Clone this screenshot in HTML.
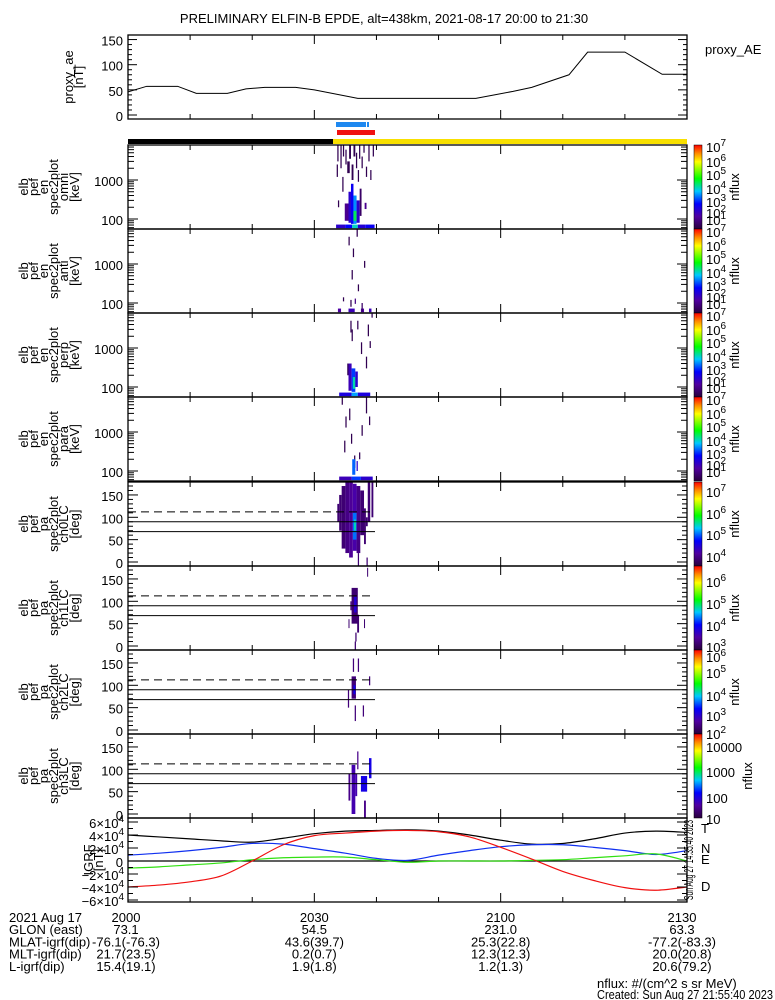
<!DOCTYPE html>
<html><head><meta charset="utf-8"><style>
html,body{margin:0;padding:0;background:#fff;}
svg{display:block;font-family:"Liberation Sans",sans-serif;}
text{fill:#000;font-size:13px;}
</style></head><body>
<svg id="chart" width="775" height="1000" viewBox="0 0 775 1000" xmlns="http://www.w3.org/2000/svg">
<text x="384" y="23" text-anchor="middle" font-size="14">PRELIMINARY ELFIN-B EPDE, alt=438km, 2021-08-17 20:00 to 21:30</text>
</svg>
<script>
// ---- data ----
const aeTimes = [0,3,8,11,16,19,22,27,30,37,56,59,62,65,71,74,80,86,90];
const aeValues = [46,57,57,43,43,52,55,55,50,33,33,40,47,55,80,125,125,81,81];
const igrfTimes = [0,5,10,15,20,25,30,35,40,45,50,55,60,65,70,75,80,85,90];
const igrfT = [4.0,3.7,3.4,3.1,2.9,3.5,4.2,4.6,4.7,4.8,4.6,4.0,3.2,2.6,2.7,3.4,4.3,4.6,4.4];
const igrfN = [0.9,1.2,1.6,2.1,2.7,2.6,1.9,1.2,0.4,0.1,0.9,1.6,2.2,2.5,2.5,2.1,1.6,1.0,1.6];
const igrfE = [-1.1,-0.9,-0.6,-0.3,0.2,0.5,0.6,0.6,0.2,-0.2,0.0,0.0,0.0,0.1,0.2,0.5,0.8,1.1,0.0];
const igrfD = [-4.0,-3.7,-3.2,-2.3,0.0,2.5,3.9,4.3,4.6,4.7,4.5,3.7,2.1,0.3,-1.6,-3.0,-4.1,-4.5,-4.0];
const ephemRows = [
 ["2021 Aug 17","2000","2030","2100","2130"],
 ["GLON (east)","73.1","54.5","231.0","63.3"],
 ["MLAT-igrf(dip)","-76.1(-76.3)","43.6(39.7)","25.3(22.8)","-77.2(-83.3)"],
 ["MLT-igrf(dip)","21.7(23.5)","0.2(0.7)","12.3(12.3)","20.0(20.8)"],
 ["L-igrf(dip)","15.4(19.1)","1.9(1.8)","1.2(1.3)","20.6(79.2)"]];
// spectrogram cells: [t0, t1, lo, hi, log10 flux]
const cellsOmni = [[33.5,35.0,58,72,2.2],[35.0,36.1,58,72,2.7],[36.1,37.0,58,72,3.9],[37.0,38.2,58,72,2.3],[38.2,39.7,58,72,2.6],
 [34.9,35.5,90,250,1.6],[35.5,35.9,80,500,2.2],[35.9,36.3,75,800,2.6],[36.3,36.8,75,400,3.4],[36.3,36.8,90,160,4.3],[36.8,37.3,80,300,2.2],[37.3,37.6,120,600,1.2],
 [33.6,33.8,1200,2500,1],[33.7,33.9,3000,8000,1],[34.2,34.4,2000,8000,1],[34.5,34.7,500,1200,1],[34.6,34.8,4000,8000,1],[35.0,35.2,2500,6000,1],[35.3,35.7,1500,3000,1],[35.6,35.9,3500,8000,1],[36.0,36.3,1000,2500,1],[36.3,36.6,4000,8000,1],[36.7,36.9,2000,5000,1],[37.0,37.2,900,1800,1],[37.2,37.4,3500,8000,1],[37.6,37.8,2000,4000,1],[37.9,38.1,5000,8000,1],[38.1,38.4,180,260,1.6],[38.3,38.5,1200,2200,1],[38.7,38.9,3000,8000,1],[39.0,39.2,1000,1800,1],[39.4,39.6,4000,8000,1],[33.8,34.0,200,300,1]];
const cellsAnti = [[35.5,35.7,3000,5000,1],[36.2,36.4,1500,2500,1],[36.0,36.2,400,700,1],[35.8,36.0,80,120,1],[37.0,37.2,200,300,1],[38.0,38.2,800,1200,1],[36.8,37.0,5000,8000,1],
 [33.8,34.3,58,72,1.8],[35.5,36.5,58,72,2.0],[37.5,38.0,58,72,1.8],[38.8,39.2,58,72,2.0],[36.5,36.7,95,130,1.5],[37.6,37.8,60,100,1.2],[34.6,34.8,110,140,1]];
const cellsPerp = [[35.5,36.0,80,400,2.0],[36.0,36.6,75,300,3.0],[36.2,36.6,90,180,4.0],[36.6,37.0,100,250,2.2],
 [34.0,36.0,58,72,2.4],[36.0,37.0,58,72,3.5],[37.0,39.0,58,72,2.4],
 [36.0,36.2,1500,3000,1],[36.9,37.1,3000,5000,1],[37.5,37.7,700,1400,1],[38.3,38.5,300,600,1],[38.6,38.8,2000,4000,1],[39.2,39.4,6000,8000,1],[35.3,35.5,200,400,1],[35.8,36.0,2500,5000,1],[38.9,39.1,1000,1500,1]];
const cellsPara = [[34.4,34.6,5000,8000,1],[35.0,35.2,1300,2500,1],[35.6,35.8,2000,4000,1],[34.8,35.0,300,600,1],[35.9,36.1,500,900,1],[36.4,36.6,120,250,1],[36.8,37.0,100,180,2.2],[37.6,37.8,800,1500,1],[38.3,38.5,3000,8000,1],[38.8,39.0,1500,2500,1],[37.2,37.4,200,300,1],
 [34.0,36.0,58,72,2.0],[36.0,37.5,58,72,3.0],[37.5,39.4,58,72,2.2],[36.1,36.6,80,200,3.2]];
const cellsCh0 = [[33.7,34.0,90,130,3.7],[34.0,34.4,70,150,3.7],[34.4,35.0,30,170,3.7],[35.0,35.6,20,178,3.8],[35.6,36.2,10,178,3.9],[36.2,36.8,25,175,4.0],[36.2,36.8,50,110,4.8],[36.4,36.7,70,95,5.2],[36.8,37.4,20,170,3.8],[37.4,38.0,60,160,3.7],[38.0,38.3,40,120,3.7],[38.3,38.6,80,100,3.7],[38.6,39.0,90,178,3.7],[39.2,39.5,100,178,3.7],[37.0,37.2,-9,20,3.7],[38.4,38.6,-9,10,3.7]];
const cellsCh1 = [[36.0,37.0,50,130,3.0],[36.4,36.8,75,110,3.6],[35.8,36.0,80,100,3.0],[36.9,37.2,30,70,3.0],[35.5,35.6,40,60,3.0],[36.6,36.8,10,30,3.0],[38.0,38.1,40,60,3.0],[36.5,36.7,-9,10,3.0],[38.5,38.6,155,175,3.0]];
const cellsCh2 = [[36.0,36.7,70,120,2.2],[36.3,36.6,80,100,3.0],[35.4,35.6,50,90,2.2],[36.5,36.7,20,55,2.2],[37.8,38.0,30,55,2.2],[38.8,39.0,100,120,2.2],[37.0,37.2,130,160,2.2],[36.2,36.4,130,160,2.2]];
const cellsCh3 = [[35.5,35.8,30,90,1.3],[36.0,36.6,0,110,1.5],[36.6,36.9,40,90,1.5],[37.5,38.5,50,85,1.8],[38.8,39.2,80,125,1.8],[38.0,38.3,-9,30,1.3],[36.9,37.1,100,140,1.3]];

// ---- geometry ----
const svg = document.getElementById('chart');
const NS = 'http://www.w3.org/2000/svg';
const X0 = 128, X1 = 687;
function xT(t){ return X0 + t/90*(X1-X0); }
function mk(tag, attrs, parent){ const e=document.createElementNS(NS,tag); for(const k in attrs) e.setAttribute(k,attrs[k]); (parent||svg).appendChild(e); return e; }
function txt(x,y,s,anchor,size,fill,parent){ const e=mk('text',{x:x,y:y,'text-anchor':anchor||'start','font-size':size||13,fill:fill||'#000'},parent); e.textContent=s; return e; }
function pow10(x,y,n,size){ const e=mk('text',{x:x,y:y,'font-size':size||13}); const a=document.createElementNS(NS,'tspan'); a.textContent='10'; e.appendChild(a); const b=document.createElementNS(NS,'tspan'); b.setAttribute('dy','-6'); b.setAttribute('font-size','10'); b.textContent=n; e.appendChild(b); return e; }
function smoothPath(xs,ys){
  let d='M'+xs[0]+','+ys[0];
  for(let i=0;i<xs.length-1;i++){
    const x0=xs[Math.max(0,i-1)],y0=ys[Math.max(0,i-1)],x1=xs[i],y1=ys[i],x2=xs[i+1],y2=ys[i+1],x3=xs[Math.min(xs.length-1,i+2)],y3=ys[Math.min(xs.length-1,i+2)];
    d+=' C'+(x1+(x2-x0)/6)+','+(y1+(y2-y0)/6)+' '+(x2-(x3-x1)/6)+','+(y2-(y3-y1)/6)+' '+x2+','+y2;
  }
  return d;
}
const stops=[[0,[40,0,60]],[0.15,[80,0,160]],[0.3,[0,0,255]],[0.45,[0,200,255]],[0.6,[0,255,0]],[0.8,[255,255,0]],[0.9,[255,140,0]],[1,[255,0,0]]];
function cmap(f){ f=Math.max(0,Math.min(1,f)); for(let i=1;i<stops.length;i++){ if(f<=stops[i][0]){ const a=stops[i-1],b=stops[i],u=(f-a[0])/(b[0]-a[0]); const c=a[1].map((v,k)=>Math.round(v+(b[1][k]-v)*u)); return 'rgb('+c.join(',')+')'; } } return 'rgb(255,0,0)'; }

const defs = mk('defs',{});
const grad = mk('linearGradient',{id:'cbar',x1:0,y1:1,x2:0,y2:0},defs);
stops.forEach(s=>{ mk('stop',{offset:s[0],'stop-color':'rgb('+s[1].join(',')+')'},grad); });

function timeTicks(top,bot,g){
  for(let m=0;m<=90;m+=10){ const x=xT(m); const L=(m%30===0)?9:5;
    mk('line',{x1:x,y1:bot,x2:x,y2:bot-L,stroke:'#000'},g); mk('line',{x1:x,y1:top,x2:x,y2:top+L,stroke:'#000'},g); }
}
function leftLabel(lines,cy,xs,g){
  lines.forEach((s,i)=>{ const e=txt(0,0,s,'middle',12,'#000',g); e.setAttribute('transform','translate('+xs[i]+','+cy+') rotate(-90)'); });
}

// ---- top proxy AE panel ----
(function(){
  const g=mk('g',{});  
  const top=35,bot=119; const yv=v=>115-v*0.503;
  mk('rect',{x:X0,y:top,width:X1-X0,height:bot-top,fill:'none',stroke:'#000','stroke-width':1.3},g);
  [0,50,100,150].forEach(v=>{ const y=yv(v); mk('line',{x1:X0,y1:y,x2:X0+9,y2:y,stroke:'#000'},g); mk('line',{x1:X1,y1:y,x2:X1-9,y2:y,stroke:'#000'},g); txt(123,y+6,String(v),'end',15,'#000',g); });
  for(let v=10;v<=150;v+=10){ if(v%50){ const y=yv(v); mk('line',{x1:X0,y1:y,x2:X0+4,y2:y,stroke:'#000'},g); mk('line',{x1:X1,y1:y,x2:X1-4,y2:y,stroke:'#000'},g);} }
  timeTicks(top,bot,g);
  const pts=aeTimes.map((t,i)=>xT(t)+','+yv(aeValues[i])).join(' ');
  const l=mk('polyline',{points:pts,fill:'none',stroke:'#000','stroke-width':1},g);
   
  leftLabel(['proxy_ae','[nT]'],77,[73,83],g);
  txt(705,54,'proxy_AE','start',13,'#000',g);
})();

// ---- status bars ----
(function(){
  const g=mk('g',{});  
  mk('rect',{x:336,y:122,width:30,height:5,fill:'#1e88f0'},g);
  mk('rect',{x:367,y:122,width:2,height:5,fill:'#1e88f0'},g);
  mk('rect',{x:337,y:130,width:38,height:5,fill:'#f01010'},g);
  mk('rect',{x:X0,y:139,width:205,height:5,fill:'#000'},g);
  mk('rect',{x:333,y:139,width:X1-333,height:5,fill:'#f8e000'},g);
})();

// ---- spectrogram panels ----
const panels = [
 {name:'omni',type:'en',top:145,cells:cellsOmni,vmin:0.8,vmax:7.2,cb:[['7',147],['6',162],['5',175],['4',189],['3',202],['2',213],['1',220]],label:'omni'},
 {name:'anti',type:'en',top:229,cells:cellsAnti,vmin:0.8,vmax:7.2,cb:[['7',232],['6',246],['5',259],['4',273],['3',286],['2',297],['1',304]],label:'anti'},
 {name:'perp',type:'en',top:313,cells:cellsPerp,vmin:0.8,vmax:7.2,cb:[['7',316],['6',330],['5',343],['4',357],['3',370],['2',381],['1',388]],label:'perp'},
 {name:'para',type:'en',top:397,cells:cellsPara,vmin:0.8,vmax:7.2,cb:[['7',400],['6',414],['5',427],['4',441],['3',454],['2',465],['1',472]],label:'para'},
 {name:'ch0LC',type:'pa',top:482,cells:cellsCh0,vmin:3.4,vmax:7.05,cb:[['7',492],['6',514],['5',535],['4',557]],label:'ch0LC'},
 {name:'ch1LC',type:'pa',top:566,cells:cellsCh1,vmin:2.7,vmax:6.55,cb:[['6',582],['5',604],['4',626],['3',647]],label:'ch1LC'},
 {name:'ch2LC',type:'pa',top:650,cells:cellsCh2,vmin:1.8,vmax:6.15,cb:[['6',657],['5',673],['4',696],['3',716],['2',734]],label:'ch2LC'},
 {name:'ch3LC',type:'pa',top:734,cells:cellsCh3,vmin:0.9,vmax:4.35,cbn:[['10000',747],['1000',772],['100',798],['10',819]],label:'ch3LC'}
];
panels.forEach(p=>{
  const top=p.top, bot=top+84;
  const g=mk('g',{});  
  let yv;
  if(p.type==='en'){ yv=e=>top+74-(Math.log10(e)-2)*39; } else { yv=d=>bot-4-d*0.447; }
  p.cells.forEach(c=>{
    const x0=xT(c[0]),x1=xT(c[1]); let y0=yv(c[3]),y1=yv(c[2]); y0=Math.max(top,y0); y1=Math.min(bot,y1);
    const r=mk('rect',{x:x0,y:y0,width:Math.max(1,x1-x0),height:Math.max(1,y1-y0),fill:cmap((c[4]-p.vmin)/(p.vmax-p.vmin))},g);
     
  });
  if(p.type==='pa'){
    mk('line',{x1:X0,y1:yv(112),x2:372,y2:yv(112),stroke:'#000','stroke-dasharray':'8,5'},g);
    mk('line',{x1:X0,y1:yv(90),x2:X1,y2:yv(90),stroke:'#000'},g);
    mk('line',{x1:X0,y1:yv(68),x2:375,y2:yv(68),stroke:'#000'},g);
  }
  mk('rect',{x:X0,y:top,width:X1-X0,height:bot-top,fill:'none',stroke:'#000','stroke-width':1.3},g);
  if(p.type==='en'){
    for(let d=1;d<=4;d++){ for(let k=1;k<10;k++){ const e=k*Math.pow(10,d); const y=yv(e); if(y<top+1||y>bot-1) continue; const L=k===1?10:6;
      mk('line',{x1:X0,y1:y,x2:X0+L,y2:y,stroke:'#000'},g); mk('line',{x1:X1,y1:y,x2:X1-L,y2:y,stroke:'#000'},g); } }
    [[1000,'1000'],[100,'100']].forEach(a=>txt(123,yv(a[0])+6,a[1],'end',15,'#000',g));
    leftLabel(['elb','pef','en','spec2plot',p.label,'[keV]'],top+42,[28,38,48,58,68,79],g);
  } else {
    for(let d=0;d<=170;d+=10){ const y=yv(d); const L=(d%50===0)?10:5; mk('line',{x1:X0,y1:y,x2:X0+L,y2:y,stroke:'#000'},g); mk('line',{x1:X1,y1:y,x2:X1-L,y2:y,stroke:'#000'},g); }
    [0,50,100,150].forEach(v=>txt(123,yv(v)+6,String(v),'end',15,'#000',g));
    leftLabel(['elb','pef','pa','spec2plot',p.label,'[deg]'],top+42,[28,38,48,58,68,79],g);
  }
  timeTicks(top,bot,g);
  const cb=mk('rect',{x:694,y:top,width:8,height:84,fill:'url(#cbar)',stroke:'#000','stroke-width':0.5},g);
   
  if(p.cb) p.cb.forEach(a=>{ const t=pow10(706,a[1]+5,a[0],15); g.appendChild(t); });
  if(p.cbn) p.cbn.forEach(a=>txt(706,a[1]+5,a[0],'start',15,'#000',g));
  const nx = p.cbn?752:739;
  const nl=txt(0,0,'nflux','middle',13,'#000',g); nl.setAttribute('transform','translate('+nx+','+(top+42)+') rotate(-90)');
});

// ---- IGRF panel ----
(function(){
  const g=mk('g',{});  
  const top=818,bot=902; const yv=v=>861-v*6.5;
  mk('line',{x1:X0,y1:yv(0),x2:X1,y2:yv(0),stroke:'#000','stroke-width':1.2},g);
  [['T',igrfT,'#000'],['N',igrfN,'#1030f0'],['E',igrfE,'#30e010'],['D',igrfD,'#f01010']].forEach(s=>{
    const xs=igrfTimes.map(t=>xT(t)), ys=s[1].map(v=>yv(v));
    const l=mk('path',{d:smoothPath(xs,ys),fill:'none',stroke:s[2],'stroke-width':1.2},g);
     
  });
  mk('rect',{x:X0,y:top,width:X1-X0,height:bot-top,fill:'none',stroke:'#000','stroke-width':1.3},g);
  [6,4,2,0,-2,-4,-6].forEach(v=>{ const y=yv(v); mk('line',{x1:X0,y1:y,x2:X0+10,y2:y,stroke:'#000'},g); mk('line',{x1:X1,y1:y,x2:X1-10,y2:y,stroke:'#000'},g);
    if(v===0){ txt(123,y+6,'0','end',15,'#000',g); }
    else { const e=mk('text',{x:124,y:y+6,'text-anchor':'end','font-size':14},g); const a=document.createElementNS(NS,'tspan'); a.textContent=(v<0?'\u2212':'')+Math.abs(v)+'\u00d710'; e.appendChild(a); const b=document.createElementNS(NS,'tspan'); b.setAttribute('dy','-6'); b.setAttribute('font-size','10'); b.textContent='4'; e.appendChild(b); }
  });
  for(let v=-6;v<=6;v+=1){ if(v%2){ const y=yv(v); mk('line',{x1:X0,y1:y,x2:X0+5,y2:y,stroke:'#000'},g); mk('line',{x1:X1,y1:y,x2:X1-5,y2:y,stroke:'#000'},g);} }
  timeTicks(top,bot,g);
  leftLabel(['IGRF','[nT]'],860,[93,103],g);
  txt(701,833,'T','start',15,'#000',g); txt(701,853,'N','start',15,'#1030f0',g); txt(701,864,'E','start',15,'#30e010',g); txt(701,891,'D','start',15,'#f01010',g);
  const st=mk('text',{x:0,y:0,'text-anchor':'middle','font-size':7,textLength:80,lengthAdjust:'spacingAndGlyphs'},g); st.textContent='Sun Aug 27 14:35:40 2023'; st.setAttribute('transform','translate(693,860) rotate(-90)');
})();

// ---- ephemeris table ----
(function(){
  const g=mk('g',{});  
  const cx=[xT(0)-2,xT(30),xT(60),xT(90)-5];
  ephemRows.forEach((r,i)=>{ const y=922+i*12.2;
    txt(9,y,r[0],'start',14,'#000',g);
    for(let k=1;k<5;k++){ txt(cx[k-1],y,r[k],'middle',14,'#000',g); }
  });
  txt(597,988,'nflux: #/(cm^2 s sr MeV)','start',11,'#000',g);
  const c=mk('text',{x:597,y:999,'font-size':11,textLength:176,lengthAdjust:'spacingAndGlyphs'},g); c.textContent='Created: Sun Aug 27 21:55:40 2023';
})();
</script>
</body></html>
